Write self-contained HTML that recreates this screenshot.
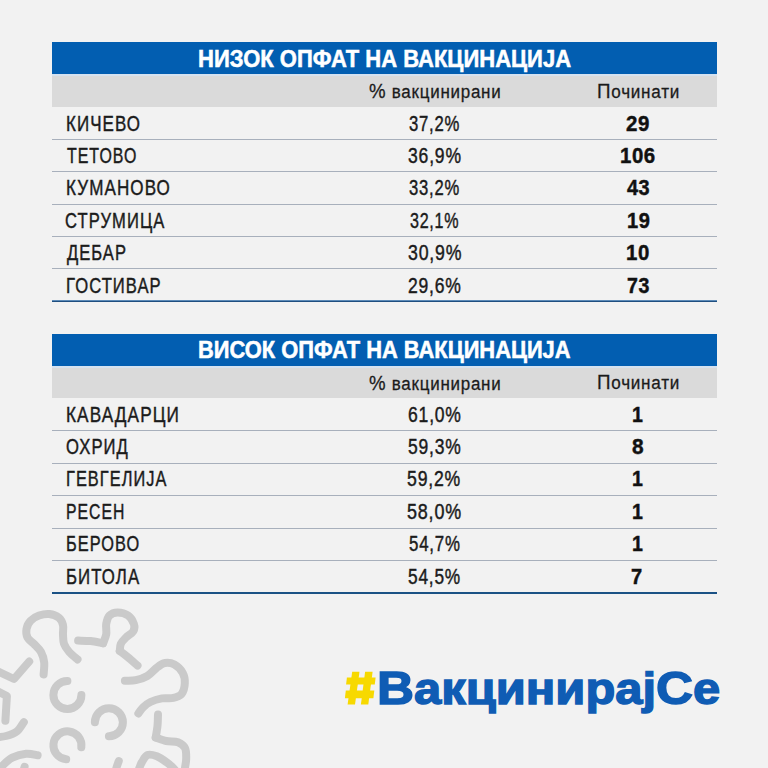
<!DOCTYPE html><html><head><meta charset="utf-8"><style>

*{margin:0;padding:0;box-sizing:border-box}
html,body{width:768px;height:768px;overflow:hidden;background:#f2f2f2}
body{position:relative;font-family:"Liberation Sans",sans-serif}
.t{position:absolute;white-space:nowrap;line-height:1;transform-origin:0 0}
.b{position:absolute}

</style></head><body>
<div class="b" style="left:52px;top:42px;width:665px;height:32px;background:#025eb1"></div>
<div class="b" style="left:52px;top:74px;width:665px;height:2px;background:#d5e2f0"></div>
<div class="b" style="left:52px;top:76px;width:665px;height:31px;background:#dadada"></div>
<div class="b" style="left:52px;top:139px;width:665px;height:1px;background:#a8b0bc"></div>
<div class="b" style="left:52px;top:171px;width:665px;height:1px;background:#a8b0bc"></div>
<div class="b" style="left:52px;top:204px;width:665px;height:1px;background:#a8b0bc"></div>
<div class="b" style="left:52px;top:236px;width:665px;height:1px;background:#a8b0bc"></div>
<div class="b" style="left:52px;top:268px;width:665px;height:1px;background:#a8b0bc"></div>
<div class="b" style="left:52px;top:334px;width:665px;height:32px;background:#025eb1"></div>
<div class="b" style="left:52px;top:366px;width:665px;height:2px;background:#d5e2f0"></div>
<div class="b" style="left:52px;top:368px;width:665px;height:30px;background:#dadada"></div>
<div class="b" style="left:52px;top:430px;width:665px;height:1px;background:#a8b0bc"></div>
<div class="b" style="left:52px;top:463px;width:665px;height:1px;background:#a8b0bc"></div>
<div class="b" style="left:52px;top:495px;width:665px;height:1px;background:#a8b0bc"></div>
<div class="b" style="left:52px;top:528px;width:665px;height:1px;background:#a8b0bc"></div>
<div class="b" style="left:52px;top:560px;width:665px;height:1px;background:#a8b0bc"></div>
<div class="b" style="left:52px;top:300px;width:665px;height:1px;background:#5d8bb8"></div>
<div class="b" style="left:52px;top:301px;width:665px;height:1px;background:#1f4f80"></div>
<div class="b" style="left:52px;top:592px;width:665px;height:2px;background:#1b5285"></div>
<svg class="b" style="left:0;top:0" width="768" height="768" viewBox="0 0 768 768">
<g fill="none" stroke="#cacaca" stroke-width="8" stroke-linecap="round" stroke-linejoin="round">
<path d="M43.6 674.5 C43.7 672.5 44.6 666.2 44.2 662.5 C43.8 658.8 42.7 655.1 41.0 652.0 C39.3 648.9 36.0 646.2 33.8 643.8 C31.5 641.3 28.7 640.0 27.5 637.5 C26.3 635.0 26.0 631.8 26.5 629.0 C27.0 626.2 28.5 623.0 30.6 620.8 C32.7 618.6 35.9 616.7 39.0 615.6 C42.1 614.5 46.1 613.6 49.4 614.0 C52.7 614.4 56.5 615.9 58.8 617.7 C61.0 619.5 62.3 622.2 63.0 625.0 C63.7 627.8 62.8 631.3 63.0 634.4 C63.2 637.5 63.0 640.8 64.0 643.8 C65.0 646.7 67.0 649.4 69.2 652.0 C71.5 654.6 76.1 658.2 77.5 659.4"/>
<path d="M78.1 640.6 C80.2 640.7 86.4 640.7 90.6 641.1 C94.8 641.5 101.0 642.9 103.1 643.2"/>
<path d="M103.1 643.2 C103.6 641.7 105.7 637.6 106.2 634.4 C106.8 631.2 105.7 627.1 106.2 624.0 C106.8 620.9 107.5 617.5 109.4 615.6 C111.3 613.7 114.6 612.5 117.7 612.5 C120.8 612.5 125.4 613.7 128.1 615.6 C130.8 617.5 133.0 621.4 133.9 624.0 C134.8 626.6 134.6 629.0 133.3 631.2 C132.0 633.5 128.1 635.4 126.0 637.5 C123.9 639.6 121.8 641.5 120.8 643.8 C119.8 646.0 120.0 649.8 119.8 651.0"/>
<path d="M119.8 651.0 C121.2 652.0 125.1 654.9 128.1 657.3 C131.0 659.7 135.9 664.2 137.5 665.6"/>
<path d="M124.9 680.7 C126.7 680.6 132.1 681.0 135.8 680.2 C139.5 679.4 143.8 678.1 147.3 676.0 C150.8 673.9 153.8 669.9 156.7 667.7 C159.6 665.5 162.1 663.5 165.0 663.0 C167.9 662.5 171.5 663.0 174.4 664.6 C177.3 666.2 181.0 669.8 182.7 672.9 C184.4 676.0 185.0 679.8 184.8 683.3 C184.6 686.8 183.6 691.3 181.7 693.8 C179.8 696.2 176.6 697.1 173.3 697.9 C170.0 698.7 165.7 697.7 161.9 698.4 C158.1 699.1 153.5 700.5 150.4 702.0 C147.3 703.5 145.1 705.4 143.1 707.3 C141.1 709.2 139.2 712.5 138.4 713.5"/>
<path d="M158.0 714.6 C157.9 716.5 157.9 722.0 157.5 725.8 C157.1 729.6 156.0 735.5 155.7 737.5"/>
<path d="M155.7 737.5 C157.5 738.1 162.5 740.2 166.2 741.0 C170.0 741.8 174.9 741.0 178.0 742.2 C181.1 743.4 183.6 745.3 185.0 748.0 C186.4 750.7 186.2 755.3 186.2 758.6 C186.2 761.9 185.3 765.1 185.0 768.0 C184.7 770.9 184.4 774.7 184.3 776.0"/>
<path d="M139.3 768.0 C139.8 767.0 140.6 764.2 142.0 762.0 C143.4 759.8 145.0 756.0 147.5 755.0 C150.0 754.0 153.8 755.1 156.9 756.2 C160.0 757.4 163.5 760.0 166.2 762.0 C169.0 764.0 171.3 766.0 173.3 768.0 C175.3 770.0 177.2 773.0 178.0 774.0"/>
<path d="M118.8 761.0 C118.4 762.2 117.0 765.8 116.4 768.0 C115.9 770.2 115.7 773.0 115.5 774.0"/>
<path d="M29.2 661.5 L14 679 L-5 670"/>
<path d="M-5 690 L6.9 696 L5.4 720.7"/>
<path d="M23.8 722.2 C22.6 723.7 19.8 729.1 16.9 731.4 C13.9 733.7 9.8 735.0 6.1 736.0 C2.4 737.0 -3.2 737.2 -5.0 737.5"/>
<path d="M37.6 755.3 C35.7 755.0 30.3 753.3 26.1 753.7 C21.9 754.1 16.2 755.7 12.3 757.6 C8.5 759.5 5.6 762.6 3.0 765.2 C0.4 767.8 -2.0 771.7 -3.0 773.0"/>
<path d="M24.6 766.8 L22 776"/>
<path d="M67.4 680.9 A14 14 0 1 0 81.4 694.9"/>
<path d="M94.9 722.3 A14 14 0 1 1 108.9 736.3"/>
<path d="M81.3 747.2 A14 14 0 1 0 66.2 759.3"/>
</g></svg>
<svg class="b" style="left:0;top:0" width="768" height="768" viewBox="0 0 768 768"><g fill="#f7d900">
<polygon points="352.2,671.8 359.5,671.8 355,704.4 347.6,704.4"/>
<polygon points="365.1,671.8 372.6,671.8 368.3,704.4 360.9,704.4"/>
<polygon points="346.9,677.4 375.6,677.4 374.8,684.6 346.1,684.6"/>
<polygon points="345.8,690.4 374.3,690.4 373.4,698.2 344.9,698.2"/>
</g></svg>
<div class="t" id="t1" style="left:197.74px;top:47.21px;font-size:24.65px;transform:scaleX(0.8929);color:#ffffff;font-weight:bold;-webkit-text-stroke:0.55px #ffffff;letter-spacing:0.00px">НИЗОК ОПФАТ НА ВАКЦИНАЦИЈА</div>
<div class="t" id="t2" style="left:198.32px;top:338.31px;font-size:24.51px;transform:scaleX(0.8925);color:#ffffff;font-weight:bold;-webkit-text-stroke:0.55px #ffffff;letter-spacing:0.00px">ВИСОК ОПФАТ НА ВАКЦИНАЦИЈА</div>
<div class="t" id="h1a" style="left:369.18px;top:80.81px;font-size:20.02px;transform:scaleX(0.9319);color:#1b1b1b;font-weight:normal;-webkit-text-stroke:0.28px #1b1b1b;letter-spacing:0.80px">%<span style="font-size:91%"> вакцинирани</span></div>
<div class="t" id="h1b" style="left:597.05px;top:80.61px;font-size:20.02px;transform:scaleX(0.9389);color:#1b1b1b;font-weight:normal;-webkit-text-stroke:0.28px #1b1b1b;letter-spacing:0.80px">П<span style="font-size:91%">очинати</span></div>
<div class="t" id="h2a" style="left:369.18px;top:372.51px;font-size:20.02px;transform:scaleX(0.9319);color:#1b1b1b;font-weight:normal;-webkit-text-stroke:0.28px #1b1b1b;letter-spacing:0.80px">%<span style="font-size:91%"> вакцинирани</span></div>
<div class="t" id="h2b" style="left:597.05px;top:372.31px;font-size:20.02px;transform:scaleX(0.9389);color:#1b1b1b;font-weight:normal;-webkit-text-stroke:0.28px #1b1b1b;letter-spacing:0.80px">П<span style="font-size:91%">очинати</span></div>
<div class="t" id="n0_0" style="left:65.55px;top:112.51px;font-size:21.72px;transform:scaleX(0.7800);color:#1b1b1b;font-weight:normal;-webkit-text-stroke:0.45px #1b1b1b;letter-spacing:1.40px">КИЧЕВО</div>
<div class="t" id="p0_0" style="left:408.91px;top:112.51px;font-size:21.72px;transform:scaleX(0.7688);color:#1b1b1b;font-weight:normal;-webkit-text-stroke:0.45px #1b1b1b;letter-spacing:1.00px">37,2%</div>
<div class="t" id="c0_0" style="left:626.32px;top:112.51px;font-size:21.72px;transform:scaleX(0.9425);color:#111111;font-weight:bold;-webkit-text-stroke:0.45px #111111;letter-spacing:0.60px">29</div>
<div class="t" id="n0_1" style="left:66.63px;top:144.91px;font-size:21.72px;transform:scaleX(0.7321);color:#1b1b1b;font-weight:normal;-webkit-text-stroke:0.45px #1b1b1b;letter-spacing:1.40px">ТЕТОВО</div>
<div class="t" id="p0_1" style="left:407.88px;top:144.91px;font-size:21.72px;transform:scaleX(0.8079);color:#1b1b1b;font-weight:normal;-webkit-text-stroke:0.45px #1b1b1b;letter-spacing:1.00px">36,9%</div>
<div class="t" id="c0_1" style="left:620.29px;top:144.91px;font-size:21.72px;transform:scaleX(0.9396);color:#111111;font-weight:bold;-webkit-text-stroke:0.45px #111111;letter-spacing:0.60px">106</div>
<div class="t" id="n0_2" style="left:65.53px;top:177.31px;font-size:21.72px;transform:scaleX(0.7847);color:#1b1b1b;font-weight:normal;-webkit-text-stroke:0.45px #1b1b1b;letter-spacing:1.40px">КУМАНОВО</div>
<div class="t" id="p0_2" style="left:408.98px;top:177.31px;font-size:21.72px;transform:scaleX(0.7648);color:#1b1b1b;font-weight:normal;-webkit-text-stroke:0.45px #1b1b1b;letter-spacing:1.00px">33,2%</div>
<div class="t" id="c0_2" style="left:626.76px;top:177.31px;font-size:21.72px;transform:scaleX(0.9156);color:#111111;font-weight:bold;-webkit-text-stroke:0.45px #111111;letter-spacing:0.60px">43</div>
<div class="t" id="n0_3" style="left:65.47px;top:209.71px;font-size:21.72px;transform:scaleX(0.7631);color:#1b1b1b;font-weight:normal;-webkit-text-stroke:0.45px #1b1b1b;letter-spacing:1.40px">СТРУМИЦА</div>
<div class="t" id="p0_3" style="left:409.89px;top:209.71px;font-size:21.72px;transform:scaleX(0.7399);color:#1b1b1b;font-weight:normal;-webkit-text-stroke:0.45px #1b1b1b;letter-spacing:1.00px">32,1%</div>
<div class="t" id="c0_3" style="left:626.85px;top:209.71px;font-size:21.72px;transform:scaleX(0.9235);color:#111111;font-weight:bold;-webkit-text-stroke:0.45px #111111;letter-spacing:0.60px">19</div>
<div class="t" id="n0_4" style="left:66.52px;top:242.11px;font-size:21.72px;transform:scaleX(0.7604);color:#1b1b1b;font-weight:normal;-webkit-text-stroke:0.45px #1b1b1b;letter-spacing:1.40px">ДЕБАР</div>
<div class="t" id="p0_4" style="left:407.87px;top:242.11px;font-size:21.72px;transform:scaleX(0.8160);color:#1b1b1b;font-weight:normal;-webkit-text-stroke:0.45px #1b1b1b;letter-spacing:1.00px">30,9%</div>
<div class="t" id="c0_4" style="left:625.76px;top:242.11px;font-size:21.72px;transform:scaleX(0.9389);color:#111111;font-weight:bold;-webkit-text-stroke:0.45px #111111;letter-spacing:0.60px">10</div>
<div class="t" id="n0_5" style="left:65.68px;top:274.51px;font-size:21.72px;transform:scaleX(0.7649);color:#1b1b1b;font-weight:normal;-webkit-text-stroke:0.45px #1b1b1b;letter-spacing:1.40px">ГОСТИВАР</div>
<div class="t" id="p0_5" style="left:407.53px;top:274.51px;font-size:21.72px;transform:scaleX(0.8069);color:#1b1b1b;font-weight:normal;-webkit-text-stroke:0.45px #1b1b1b;letter-spacing:1.00px">29,6%</div>
<div class="t" id="c0_5" style="left:626.67px;top:274.51px;font-size:21.72px;transform:scaleX(0.9007);color:#111111;font-weight:bold;-webkit-text-stroke:0.45px #111111;letter-spacing:0.60px">73</div>
<div class="t" id="n1_0" style="left:65.50px;top:403.61px;font-size:21.72px;transform:scaleX(0.7915);color:#1b1b1b;font-weight:normal;-webkit-text-stroke:0.45px #1b1b1b;letter-spacing:1.40px">КАВАДАРЦИ</div>
<div class="t" id="p1_0" style="left:407.84px;top:403.61px;font-size:21.72px;transform:scaleX(0.8077);color:#1b1b1b;font-weight:normal;-webkit-text-stroke:0.45px #1b1b1b;letter-spacing:1.00px">61,0%</div>
<div class="t" id="c1_0" style="left:632.44px;top:403.61px;font-size:21.72px;transform:scaleX(0.9015);color:#111111;font-weight:bold;-webkit-text-stroke:0.45px #111111;letter-spacing:0.60px">1</div>
<div class="t" id="n1_1" style="left:65.83px;top:436.05px;font-size:21.72px;transform:scaleX(0.7655);color:#1b1b1b;font-weight:normal;-webkit-text-stroke:0.45px #1b1b1b;letter-spacing:1.40px">ОХРИД</div>
<div class="t" id="p1_1" style="left:408.46px;top:436.05px;font-size:21.72px;transform:scaleX(0.8045);color:#1b1b1b;font-weight:normal;-webkit-text-stroke:0.45px #1b1b1b;letter-spacing:1.00px">59,3%</div>
<div class="t" id="c1_1" style="left:631.73px;top:436.05px;font-size:21.72px;transform:scaleX(0.9601);color:#111111;font-weight:bold;-webkit-text-stroke:0.45px #111111;letter-spacing:0.60px">8</div>
<div class="t" id="n1_2" style="left:65.75px;top:468.48px;font-size:21.72px;transform:scaleX(0.7524);color:#1b1b1b;font-weight:normal;-webkit-text-stroke:0.45px #1b1b1b;letter-spacing:1.40px">ГЕВГЕЛИЈА</div>
<div class="t" id="p1_2" style="left:407.43px;top:468.48px;font-size:21.72px;transform:scaleX(0.8124);color:#1b1b1b;font-weight:normal;-webkit-text-stroke:0.45px #1b1b1b;letter-spacing:1.00px">59,2%</div>
<div class="t" id="c1_2" style="left:632.44px;top:468.48px;font-size:21.72px;transform:scaleX(0.9015);color:#111111;font-weight:bold;-webkit-text-stroke:0.45px #111111;letter-spacing:0.60px">1</div>
<div class="t" id="n1_3" style="left:65.94px;top:500.92px;font-size:21.72px;transform:scaleX(0.7260);color:#1b1b1b;font-weight:normal;-webkit-text-stroke:0.45px #1b1b1b;letter-spacing:1.40px">РЕСЕН</div>
<div class="t" id="p1_3" style="left:407.44px;top:500.92px;font-size:21.72px;transform:scaleX(0.8265);color:#1b1b1b;font-weight:normal;-webkit-text-stroke:0.45px #1b1b1b;letter-spacing:1.00px">58,0%</div>
<div class="t" id="c1_3" style="left:632.44px;top:500.92px;font-size:21.72px;transform:scaleX(0.9015);color:#111111;font-weight:bold;-webkit-text-stroke:0.45px #111111;letter-spacing:0.60px">1</div>
<div class="t" id="n1_4" style="left:65.75px;top:533.37px;font-size:21.72px;transform:scaleX(0.7510);color:#1b1b1b;font-weight:normal;-webkit-text-stroke:0.45px #1b1b1b;letter-spacing:1.40px">БЕРОВО</div>
<div class="t" id="p1_4" style="left:409.15px;top:533.37px;font-size:21.72px;transform:scaleX(0.7768);color:#1b1b1b;font-weight:normal;-webkit-text-stroke:0.45px #1b1b1b;letter-spacing:1.00px">54,7%</div>
<div class="t" id="c1_4" style="left:632.44px;top:533.37px;font-size:21.72px;transform:scaleX(0.9015);color:#111111;font-weight:bold;-webkit-text-stroke:0.45px #111111;letter-spacing:0.60px">1</div>
<div class="t" id="n1_5" style="left:65.62px;top:565.81px;font-size:21.72px;transform:scaleX(0.7735);color:#1b1b1b;font-weight:normal;-webkit-text-stroke:0.45px #1b1b1b;letter-spacing:1.40px">БИТОЛА</div>
<div class="t" id="p1_5" style="left:408.47px;top:565.81px;font-size:21.72px;transform:scaleX(0.7963);color:#1b1b1b;font-weight:normal;-webkit-text-stroke:0.45px #1b1b1b;letter-spacing:1.00px">54,5%</div>
<div class="t" id="c1_5" style="left:631.48px;top:565.81px;font-size:21.72px;transform:scaleX(0.9228);color:#111111;font-weight:bold;-webkit-text-stroke:0.45px #111111;letter-spacing:0.60px">7</div>
<div class="t" id="vak" style="left:376.55px;top:665.32px;font-size:44.30px;transform:scaleX(1.1035);color:#0f5cb4;font-weight:bold;-webkit-text-stroke:1.40px #0f5cb4;letter-spacing:0.00px"><span style="font-size:46.5px">В</span>акцинирај<span style="font-size:46.5px">С</span>е</div>
</body></html>
